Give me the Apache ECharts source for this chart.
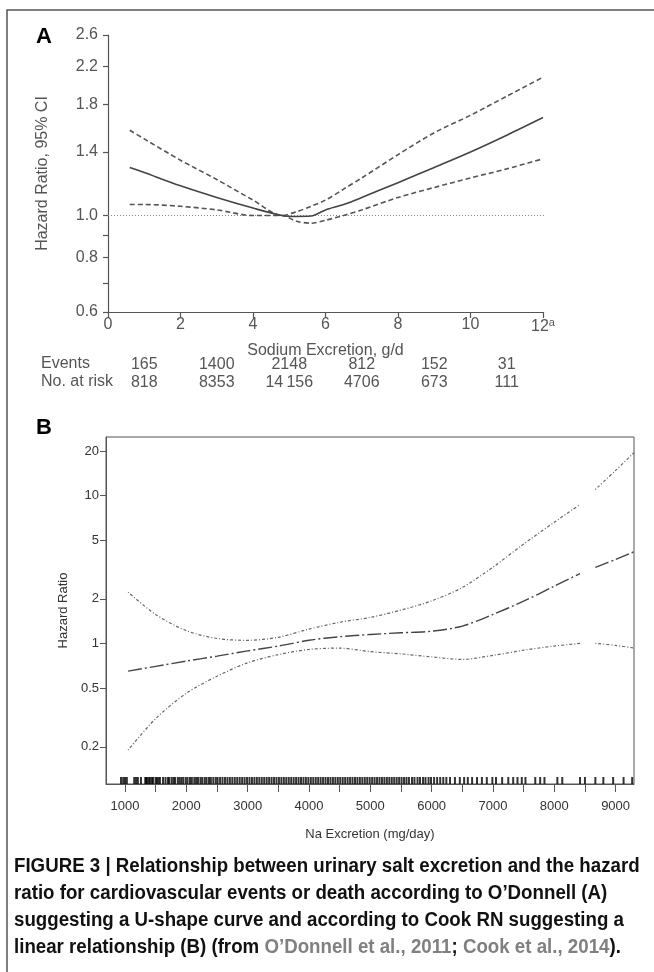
<!DOCTYPE html>
<html>
<head>
<meta charset="UTF-8">
<title>Sodium excretion and hazard ratio</title>
<script src="https://cdn.jsdelivr.net/npm/echarts@6/dist/echarts.min.js"></script>
<style>
    html, body { margin: 0; padding: 0; background: #fff; }
    #chart { width: 654px; height: 972px; }
</style>
</head>
<body>
<div id="chart"></div>
<script>
// ---- panel A (O'Donnell 2011): sodium excretion g/d vs hazard ratio ----
var aSodium = [0.6, 1, 2, 3, 4, 4.8, 5.2, 5.6, 6, 6.5, 7, 8, 9, 10, 11, 12];
var aHR     = [1.29, 1.255, 1.17, 1.10, 1.04, 1.0, 0.995, 0.997, 1.03, 1.06, 1.10, 1.19, 1.29, 1.40, 1.53, 1.68];
var aUpper  = [1.57, 1.50, 1.34, 1.21, 1.085, 1.0, 1.02, 1.05, 1.085, 1.15, 1.22, 1.38, 1.55, 1.70, 1.88, 2.08];
var aLower  = [1.06, 1.06, 1.05, 1.03, 1.0, 1.0, 0.97, 0.96, 0.975, 1.0, 1.03, 1.10, 1.16, 1.22, 1.28, 1.35];
var aRefX = [0, 12.1];
var aRefY = [1, 1];
var aYTicks  = [0.6, 0.7, 0.8, 0.9, 1.0, 1.4, 1.8, 2.2, 2.6];
var aYLabels = [0.6, 0.8, 1.0, 1.4, 1.8, 2.2, 2.6];
var aTableX  = [1, 3, 5, 7, 9, 11];
var aEvents  = ['165', '1400', '2148', '812', '152', '31'];
var aAtRisk  = ['818', '8353', '14\u2009156', '4706', '673', '111'];

// ---- panel B (Cook 2014): Na excretion mg/day vs hazard ratio ----
var bNa    = [1050, 1500, 2000, 2500, 3000, 3500, 4000, 4500, 5000, 5500, 6000, 6500, 7000, 7500, 8000, 8420, 8540, 8670, 9000, 9300];
var bHR    = [0.65, 0.70, 0.76, 0.82, 0.89, 0.96, 1.05, 1.11, 1.15, 1.18, 1.21, 1.31, 1.57, 1.93, 2.44, 2.97, null, 3.27, 3.70, 4.17];
var bUpper = [2.22, 1.57, 1.22, 1.08, 1.05, 1.10, 1.25, 1.39, 1.50, 1.68, 1.94, 2.39, 3.28, 4.70, 6.60, 8.70, null, 11.0, 14.8, 19.5];
var bLower = [0.19, 0.31, 0.46, 0.60, 0.74, 0.84, 0.91, 0.93, 0.88, 0.85, 0.81, 0.78, 0.83, 0.90, 0.96, 1.0, null, 1.0, 0.97, 0.93];
var bYTicks  = [0.2, 0.5, 1, 2, 5, 10, 20];
var bYRange  = [0.112, 24.9];
var bXTicks  = [1000, 1500, 2000, 2500, 3000, 3500, 4000, 4500, 5000, 5500, 6000, 6500, 7000, 7500, 8000, 8500, 9000];
var bXLabels = [1000, 2000, 3000, 4000, 5000, 6000, 7000, 8000, 9000];
// rug of individual observations along the x axis
var bRug = [935, 970, 1000, 1030, 1150, 1180, 1210, 1260, 1330, 1345, 1360, 1390, 1410, 1440, 1460,
    1500, 1520, 1545, 1570, 1620, 1660, 1700, 1720, 1760, 1790, 1815, 1860, 1890, 1920, 1950,
    1990, 2020, 2060, 2090, 2130, 2160, 2190, 2230, 2260, 2300, 2330, 2370, 2400, 2440, 2480,
    2510, 2550, 2590, 2630, 2670, 2710, 2750, 2790, 2830, 2870, 2910, 2950, 2990, 3030, 3070,
    3110, 3150, 3190, 3230, 3270, 3310, 3350, 3390, 3430, 3470, 3510, 3550, 3590, 3630, 3670,
    3710, 3750, 3790, 3830, 3870, 3910, 3950, 3990, 4030, 4070, 4110, 4150, 4190, 4230, 4270,
    4310, 4350, 4390, 4430, 4470, 4510, 4550, 4590, 4630, 4670, 4710, 4750, 4790, 4830, 4870,
    4910, 4950, 4990, 5030, 5070, 5110, 5150, 5190, 5230, 5270, 5310, 5350, 5390, 5430, 5470,
    5510, 5550, 5590, 5630, 5680, 5720, 5770, 5810, 5860, 5900, 5950, 5990, 6040, 6090, 6140,
    6190, 6240, 6300, 6380, 6460, 6530, 6590, 6660, 6740, 6820, 6900, 6990, 7050, 7150, 7250,
    7330, 7400, 7470, 7530, 7690, 7770, 7840, 8050, 8130, 8420, 8500, 8670, 8800, 8960, 9130, 9270];

function pairs(xs, ys, tf) {
    return xs.map(function (x, i) {
        return [x, ys[i] == null ? '-' : tf(ys[i])];
    });
}
function nearest(list, v, tf) {
    var best = list[0];
    list.forEach(function (t) { if (Math.abs(tf(t) - v) < Math.abs(tf(best) - v)) best = t; });
    return best;
}

var grayA = '#555';
var fontA = 'Liberation Sans, Arial, sans-serif';
var capFont = 'bold 20px ' + fontA;
var myChart = echarts.init(document.getElementById('chart'));

var option = {
    backgroundColor: '#fff',
    animation: false,
    textStyle: { fontFamily: fontA },
    grid: [
        { left: 108, right: 111, top: 35, bottom: 660 },
        { left: 106, right: 20, top: 437, bottom: 188, show: true, borderColor: '#555', borderWidth: 1 }
    ],
    xAxis: [
        {   // A main axis
            gridIndex: 0, type: 'value', min: 0, max: 12, interval: 2,
            name: 'Sodium Excretion, g/d', nameLocation: 'middle', nameGap: 31,
            nameTextStyle: { color: grayA, fontSize: 16 },
            axisLine: { onZero: false, lineStyle: { color: grayA, width: 1.2 } },
            axisTick: { length: 6, lineStyle: { color: grayA, width: 1.2 } },
            splitLine: { show: false },
            axisLabel: {
                margin: 5,
                formatter: function (v) { return v === 12 ? '{n|12}{s|a}' : '{n|' + v + '}'; },
                rich: {
                    n: { color: grayA, fontSize: 16 },
                    s: { color: grayA, fontSize: 11, padding: [0, 0, 8, 0] }
                }
            }
        },
        {   // A events row
            gridIndex: 0, type: 'value', min: 0, max: 12, position: 'bottom', offset: 45,
            axisLine: { show: false, onZero: false }, axisTick: { show: false }, splitLine: { show: false },
            axisLabel: {
                margin: 0, color: grayA, fontSize: 16, customValues: aTableX,
                formatter: function (v) { return aEvents[aTableX.indexOf(v)]; }
            }
        },
        {   // A at risk row
            gridIndex: 0, type: 'value', min: 0, max: 12, position: 'bottom', offset: 63,
            axisLine: { show: false, onZero: false }, axisTick: { show: false }, splitLine: { show: false },
            axisLabel: {
                margin: 0, color: grayA, fontSize: 16, customValues: aTableX,
                formatter: function (v) { return aAtRisk[aTableX.indexOf(v)]; }
            }
        },
        {   // B axis
            gridIndex: 1, type: 'value', min: 690, max: 9300,
            name: 'Na Excretion (mg/day)', nameLocation: 'middle', nameGap: 44,
            nameTextStyle: { color: '#333', fontSize: 13 },
            axisLine: { onZero: false, lineStyle: { color: '#555' } },
            axisTick: { length: 8, customValues: bXTicks, lineStyle: { color: '#555' } },
            splitLine: { show: false },
            axisLabel: {
                customValues: bXLabels, color: '#333', fontSize: 13, margin: 16,
                formatter: function (v) { return String(v); }
            }
        }
    ],
    yAxis: [
        {
            gridIndex: 0, type: 'value', min: Math.log(0.6), max: Math.log(2.6),
            name: 'Hazard Ratio, 95% CI', nameLocation: 'middle', nameGap: 57,
            nameTextStyle: { color: grayA, fontSize: 16 },
            axisLine: { show: true, onZero: false, lineStyle: { color: grayA, width: 1.2 } },
            axisTick: { length: 5, customValues: aYTicks.map(Math.log), lineStyle: { color: grayA, width: 1.2 } },
            splitLine: { show: false },
            axisLabel: {
                customValues: aYLabels.map(Math.log), color: grayA, fontSize: 16, margin: 10,
                formatter: function (v) { return nearest(aYLabels, v, Math.log).toFixed(1); }
            }
        },
        {
            gridIndex: 1, type: 'value', min: Math.log10(bYRange[0]), max: Math.log10(bYRange[1]),
            name: 'Hazard Ratio', nameLocation: 'middle', nameGap: 30,
            nameTextStyle: { color: '#333', fontSize: 13 },
            axisLine: { show: true, onZero: false, lineStyle: { color: '#555' } },
            axisTick: { length: 6, customValues: bYTicks.map(Math.log10), lineStyle: { color: '#555' } },
            splitLine: { show: false },
            axisLabel: {
                customValues: bYTicks.map(Math.log10), color: '#333', fontSize: 13, margin: 7,
                formatter: function (v) { return String(nearest(bYTicks, v, Math.log10)); }
            }
        }
    ],
    series: [
        {
            name: 'reference', type: 'line', xAxisIndex: 0, yAxisIndex: 0, symbol: 'none',
            data: pairs(aRefX, aRefY, Math.log),
            lineStyle: { color: '#888', width: 1, type: [1, 2] }
        },
        {
            name: 'upper 95% CI', type: 'line', xAxisIndex: 0, yAxisIndex: 0, symbol: 'none', smooth: 0.3,
            data: pairs(aSodium, aUpper, Math.log),
            lineStyle: { color: '#555', width: 1.6, type: [5, 3] }
        },
        {
            name: 'lower 95% CI', type: 'line', xAxisIndex: 0, yAxisIndex: 0, symbol: 'none', smooth: 0.3,
            data: pairs(aSodium, aLower, Math.log),
            lineStyle: { color: '#555', width: 1.6, type: [5, 3] }
        },
        {
            name: 'hazard ratio', type: 'line', xAxisIndex: 0, yAxisIndex: 0, symbol: 'none', smooth: 0.3,
            data: pairs(aSodium, aHR, Math.log),
            lineStyle: { color: '#444', width: 1.6 }
        },
        {
            name: 'B upper', type: 'line', xAxisIndex: 3, yAxisIndex: 1, symbol: 'none', smooth: 0.3,
            connectNulls: false, data: pairs(bNa, bUpper, Math.log10),
            lineStyle: { color: '#666', width: 1.2, type: [1, 2, 3, 2] }
        },
        {
            name: 'B lower', type: 'line', xAxisIndex: 3, yAxisIndex: 1, symbol: 'none', smooth: 0.3,
            connectNulls: false, data: pairs(bNa, bLower, Math.log10),
            lineStyle: { color: '#666', width: 1.2, type: [1, 2, 3, 2] }
        },
        {
            name: 'B hazard ratio', type: 'line', xAxisIndex: 3, yAxisIndex: 1, symbol: 'none', smooth: 0.3,
            connectNulls: false, data: pairs(bNa, bHR, Math.log10),
            lineStyle: { color: '#444', width: 1.4, type: [14, 3, 2, 3] }
        },
        {
            name: 'rug', type: 'scatter', xAxisIndex: 3, yAxisIndex: 1, clip: false,
            symbol: 'rect', symbolSize: [2, 7], symbolOffset: [0, -3.5],
            data: bRug.map(function (v) { return [v, Math.log10(bYRange[0])]; }),
            itemStyle: { color: '#000' }
        }
    ],
    graphic: [
        { type: 'polyline', shape: { points: [[7, 972], [7, 10], [654, 10]] }, style: { stroke: '#555', lineWidth: 1.5, fill: null } },
        { type: 'text', left: 36, top: 26, style: { text: 'A', font: 'bold 22px ' + fontA, fill: '#000' } },
        { type: 'text', left: 36, top: 417, style: { text: 'B', font: 'bold 22px ' + fontA, fill: '#000' } },
        { type: 'text', left: 41, top: 356, style: { text: 'Events', font: '16px ' + fontA, fill: grayA } },
        { type: 'text', left: 41, top: 374, style: { text: 'No. at risk', font: '16px ' + fontA, fill: grayA } },
        {
            type: 'group', left: 14, top: 856, scaleX: 0.935,
            children: [
                { type: 'text', x: 0, y: 0, style: { text: 'FIGURE 3 | Relationship between urinary salt excretion and the hazard', font: capFont, fill: '#111' } },
                { type: 'text', x: 0, y: 27, style: { text: 'ratio for cardiovascular events or death according to O\u2019Donnell (A)', font: capFont, fill: '#111' } },
                { type: 'text', x: 0, y: 54, style: { text: 'suggesting a U-shape curve and according to Cook RN suggesting a', font: capFont, fill: '#111' } },
                {
                    type: 'text', x: 0, y: 81, style: {
                        text: 'linear relationship (B) (from {g|O\u2019Donnell et al., 2011}; {g|Cook et al., 2014}).',
                        font: capFont, fill: '#111',
                        rich: { g: { fill: '#808080', font: capFont } }
                    }
                }
            ]
        }
    ]
};
myChart.setOption(option);
</script>
</body>
</html>
